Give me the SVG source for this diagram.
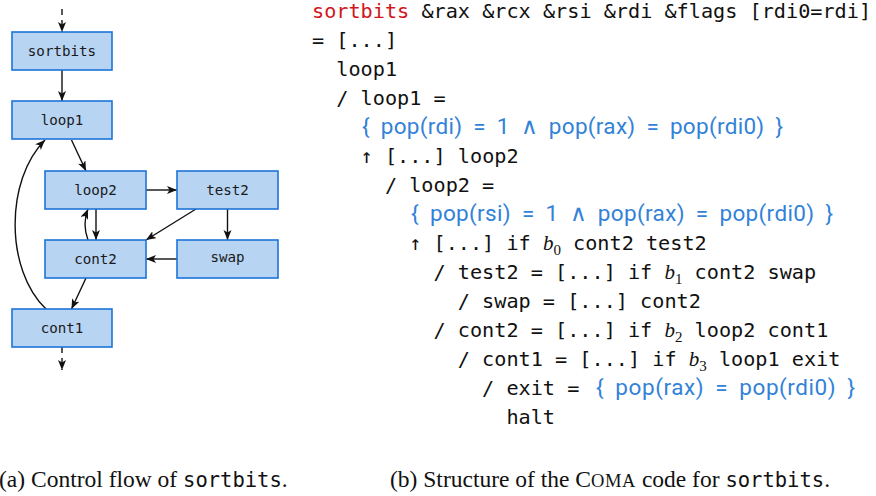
<svg xmlns="http://www.w3.org/2000/svg" width="876" height="496" viewBox="0 0 876 496">
<style>
.node rect{fill:#b7d4f3;stroke:#1b74d8;stroke-width:1.6}
.node text{font-family:"DejaVu Sans Mono","Liberation Mono",monospace;font-size:14.2px;fill:#1a1a1a;text-anchor:middle}
.edge{fill:none;stroke:#111;stroke-width:1.4}
.dash{stroke-dasharray:6 5}
.code{font-family:"DejaVu Sans Mono","Liberation Mono",monospace;font-size:20.2px;fill:#111}
.red{fill:#d1161d}
.blue{font-family:Roboto,"Open Sans",sans-serif;font-size:22.5px;fill:#3282d8;word-spacing:5px}
.bi{font-family:"Liberation Serif",serif;font-style:italic;font-size:21px}
.sub{font-family:"Liberation Serif",serif;font-size:15px}
.cap{font-family:"Liberation Serif",serif;font-size:23.5px;fill:#111}
.capm{font-family:"DejaVu Sans Mono","Liberation Mono",monospace;font-size:20.5px}
</style>
<defs>
<marker id="ah" markerUnits="userSpaceOnUse" markerWidth="11" markerHeight="9" refX="10" refY="4" orient="auto">
<path d="M0,0 L10,4 L0,8 L2.5,4 z" fill="#111"/>
</marker>
</defs>

<g id="connectors">
<path class="edge dash" d="M62,9 L62,32" marker-end="url(#ah)"/>
<path class="edge" d="M62,70 L62,101" marker-end="url(#ah)"/>
<path class="edge" d="M71.5,140 L86,171" marker-end="url(#ah)"/>
<path class="edge" d="M146,190 L177,190" marker-end="url(#ah)"/>
<path class="edge" d="M96,209 L96,240" marker-end="url(#ah)"/>
<path class="edge" d="M88,240 Q82,224 88,209" marker-end="url(#ah)"/>
<path class="edge" d="M196,209 L146,240" marker-end="url(#ah)"/>
<path class="edge" d="M227.5,209 L227.5,240" marker-end="url(#ah)"/>
<path class="edge" d="M177,259 L146,259" marker-end="url(#ah)"/>
<path class="edge" d="M86,278 L71.5,309" marker-end="url(#ah)"/>
<path class="edge" d="M46,309 C5,270 5,180 45,140" marker-end="url(#ah)"/>
<path class="edge dash" d="M62,347 L62,370" marker-end="url(#ah)"/>
</g>

<g id="sortbits" class="node"><rect x="12" y="32" width="100" height="38"/><text x="62" y="56">sortbits</text></g>
<g id="loop1" class="node"><rect x="12" y="101" width="100" height="38"/><text x="62" y="125">loop1</text></g>
<g id="loop2" class="node"><rect x="45" y="171" width="101" height="38"/><text x="95.5" y="195">loop2</text></g>
<g id="test2" class="node"><rect x="177" y="171" width="101" height="38"/><text x="227.5" y="195">test2</text></g>
<g id="cont2" class="node"><rect x="45" y="240" width="101" height="38"/><text x="95.5" y="264">cont2</text></g>
<g id="swap" class="node"><rect x="177" y="240" width="101" height="38"/><text x="227.5" y="262">swap</text></g>
<g id="cont1" class="node"><rect x="12" y="309" width="100" height="38"/><text x="62" y="333">cont1</text></g>

<g id="code">
<text class="code" x="312" y="18" xml:space="preserve"><tspan class="red">sortbits</tspan> &amp;rax &amp;rcx &amp;rsi &amp;rdi &amp;flags [rdi0=rdi]</text>
<text class="code" x="312" y="47">= [...]</text>
<text class="code" x="336.3" y="76">loop1</text>
<text class="code" x="336.3" y="105">/ loop1 =</text>
<text class="blue" x="362" y="134" textLength="421" lengthAdjust="spacing">{ pop(rdi) = 1 ∧ pop(rax) = pop(rdi0) }</text>
<text class="code" x="360.6" y="163">↑ [...] loop2</text>
<text class="code" x="384.9" y="192">/ loop2 =</text>
<text class="blue" x="411" y="221" textLength="422" lengthAdjust="spacing">{ pop(rsi) = 1 ∧ pop(rax) = pop(rdi0) }</text>
<text class="code" x="409.2" y="250" xml:space="preserve">↑ [...] if <tspan class="bi">b</tspan><tspan class="sub" dy="5">0</tspan><tspan dy="-5"> cont2 test2</tspan></text>
<text class="code" x="433.5" y="279" xml:space="preserve">/ test2 = [...] if <tspan class="bi">b</tspan><tspan class="sub" dy="5">1</tspan><tspan dy="-5"> cont2 swap</tspan></text>
<text class="code" x="457.8" y="308">/ swap = [...] cont2</text>
<text class="code" x="433.5" y="337" xml:space="preserve">/ cont2 = [...] if <tspan class="bi">b</tspan><tspan class="sub" dy="5">2</tspan><tspan dy="-5"> loop2 cont1</tspan></text>
<text class="code" x="457.8" y="366" xml:space="preserve">/ cont1 = [...] if <tspan class="bi">b</tspan><tspan class="sub" dy="5">3</tspan><tspan dy="-5"> loop1 exit</tspan></text>
<text class="code" x="482.1" y="395">/ exit =</text>
<text class="blue" x="596" y="395" textLength="259" lengthAdjust="spacing">{ pop(rax) = pop(rdi0) }</text>
<text class="code" x="506.4" y="424">halt</text>
</g>

<g id="captions">
<text class="cap" x="-1" y="487" xml:space="preserve">(a) Control flow of <tspan class="capm">sortbits</tspan>.</text>
<text class="cap" x="390" y="487" xml:space="preserve">(b) Structure of the C<tspan font-size="18.5" letter-spacing="0.6">OMA</tspan> code for <tspan class="capm">sortbits</tspan>.</text>
</g>
</svg>
